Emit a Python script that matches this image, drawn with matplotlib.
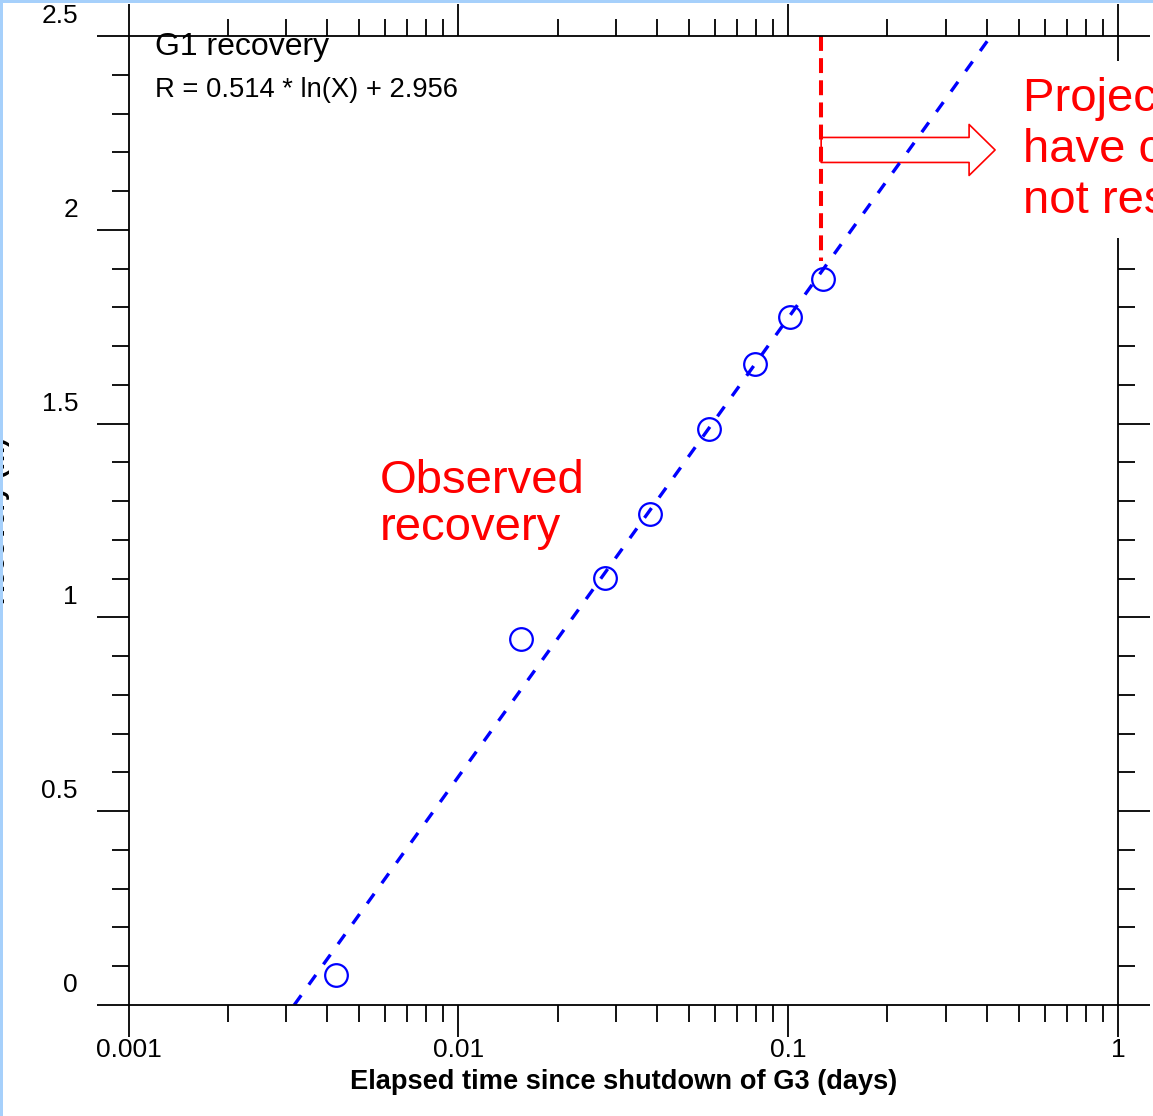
import matplotlib
matplotlib.use('Agg')
from matplotlib import pyplot as plt
from matplotlib.ticker import LogLocator, MultipleLocator, NullFormatter
from matplotlib.transforms import blended_transform_factory, offset_copy
from matplotlib.patches import Rectangle
import numpy as np

plt.rcParams['font.family'] = ['Liberation Sans', 'DejaVu Sans']

# observed recovery at G1
elapsed_days = [0.00426, 0.01549, 0.02786, 0.03814, 0.05754, 0.07934, 0.1013, 0.1276]
recovery_m = [0.077, 0.944, 1.102, 1.267, 1.486, 1.654, 1.775, 1.873]

# log fit printed on the chart: R = 0.514 * ln(X) + 2.956
fit_slope = 0.514
fit_intercept = 2.956
fit_days = [0.00318, 0.4118]  # fit crosses R = 0 and R = 2.5 here

# end of observed data / start of projection
cutoff_day = 0.1259
cutoff_r = [2.5, 1.92]
arrow_r = 2.206
arrow_tip_day = 0.424

x_ticks = [0.001, 0.01, 0.1, 1]
x_tick_labels = ['0.001', '0.01', '0.1', '1']
y_ticks = [0, 0.5, 1, 1.5, 2, 2.5]
y_tick_labels = ['0', '0.5', '1', '1.5', '2', '2.5']

W, H = 1153, 1116
def fx(px):
    return px / W
def fy(py):
    return 1 - py / H

fig = plt.figure(figsize=(W / 100, H / 100), dpi=100)
ax = fig.add_axes([fx(128.5), fy(1005), (1118 - 128.5) / W, (1005 - 36) / H])
ax.patch.set_alpha(0)

ax.set_xscale('log')
ax.set_xlim(0.001, 1)
ax.set_ylim(0, 2.5)

# fit line (straight on semilog axes)
fit_r = [fit_slope * np.log(d) + fit_intercept for d in fit_days]
ax.plot(fit_days, fit_r, color='#0000ff', lw=2.4, ls=(0, (3.6, 3.9)), zorder=2)

# observed points
ax.plot(elapsed_days, recovery_m, 'o', ms=16.3, mfc='none', mec='#0000ff', mew=1.6, zorder=3)

# red cut-off line and projection arrow
ax.plot([cutoff_day, cutoff_day], cutoff_r, color='#ff0000', lw=2.9, ls=(0, (3.7, 1.8)), zorder=2)
ax.annotate('', xy=(arrow_tip_day, arrow_r), xytext=(cutoff_day, arrow_r),
            arrowprops=dict(arrowstyle='simple,head_length=0.52,head_width=1.02,tail_width=0.5',
                            mutation_scale=36, fc='none', ec='#ff0000', lw=1.2,
                            shrinkA=0, shrinkB=0),
            zorder=1.5)

# axes, ticks
for s in ax.spines.values():
    s.set_linewidth(1.3)
ax.set_xticks(x_ticks)
ax.set_xticklabels(x_tick_labels)
ax.xaxis.set_minor_locator(LogLocator(base=10, subs=np.arange(2, 10)))
ax.xaxis.set_minor_formatter(NullFormatter())
ax.set_yticks(y_ticks)
ax.yaxis.set_minor_locator(MultipleLocator(0.1))
ax.tick_params(which='both', direction='out', top=True, right=True, width=1.3,
               labelleft=False, labeltop=False, labelright=False)
ax.tick_params(which='major', length=23)
ax.tick_params(which='minor', length=12.2)
ax.tick_params(axis='x', which='major', labelsize=19, pad=0.5)

# y tick labels sit above their ticks
trans = offset_copy(blended_transform_factory(ax.transAxes, ax.transData),
                    fig=fig, x=-50.5, y=13, units='dots')
for v, lab in zip(y_ticks, y_tick_labels):
    ax.text(0, v, lab, transform=trans, ha='right', va='baseline', fontsize=19)

ax.set_xlabel('Elapsed time since shutdown of G3 (days)', fontsize=19.6,
              fontweight='bold', labelpad=5)
ax.set_ylabel('Recovery (m)', fontsize=19, fontweight='bold')
ax.yaxis.set_label_coords((10 - 128.5) / 990, 0.5)

# annotations
fig.text(fx(155), fy(55), 'G1 recovery', fontsize=23, va='baseline')
fig.text(fx(155), fy(97), 'R = 0.514 * ln(X) + 2.956', fontsize=19.7, va='baseline')
fig.text(fx(380), fy(459), 'Observed\nrecovery', fontsize=34, color='#ff0000',
         va='top', linespacing=1.1)
fig.text(fx(1023), fy(77), 'Projected recovery would\nhave continued if G3 had\nnot restarted',
         fontsize=34, color='#ff0000', va='top', linespacing=1.2,
         bbox=dict(boxstyle='square,pad=0.33', fc='white', ec='none'))

# light blue window edge
fig.add_artist(Rectangle((0, fy(2.5)), 1, 2.5 / H, transform=fig.transFigure,
                         facecolor='#a6d0fb', edgecolor='none', zorder=10))
fig.add_artist(Rectangle((0, 0), 2.5 / W, 1, transform=fig.transFigure,
                         facecolor='#a6d0fb', edgecolor='none', zorder=10))

fig.savefig('out.png', dpi=100)
